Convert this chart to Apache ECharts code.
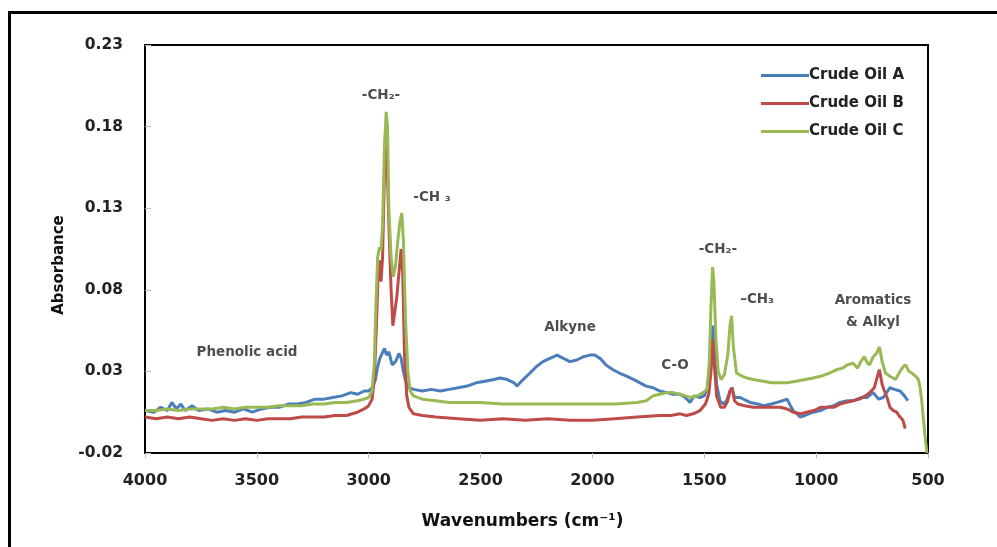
<!DOCTYPE html>
<html>
<head>
<meta charset="utf-8">
<script src="https://cdn.jsdelivr.net/npm/echarts@6/dist/echarts.min.js"></script>
<style>html,body{margin:0;padding:0;background:#fff}#c{width:997px;height:547px}</style>
</head>
<body>
<div id="c"></div>
<script>
// ---- Data ----
const seriesNames = ['Crude Oil A', 'Crude Oil B', 'Crude Oil C'];
const xTicks = [4000, 3500, 3000, 2500, 2000, 1500, 1000, 500];
const yTicks = [-0.02, 0.03, 0.08, 0.13, 0.18, 0.23];

const waveA = [4000,3960,3930,3900,3880,3860,3840,3820,3790,3760,3720,3680,3640,3600,3560,3520,3480,3440,3400,3360,3320,3280,3240,3200,3160,3120,3080,3050,3020,3000,2985,2970,2960,2950,2940,2930,2920,2910,2895,2880,2865,2855,2845,2835,2820,2800,2760,2720,2680,2640,2600,2560,2520,2480,2440,2413,2380,2350,2337,2310,2279,2250,2221,2190,2158,2130,2100,2070,2040,2011,1990,1966,1940,1908,1880,1845,1815,1787,1760,1729,1700,1666,1640,1608,1585,1564,1545,1520,1500,1485,1475,1465,1460,1455,1445,1430,1415,1400,1385,1376,1365,1340,1296,1260,1237,1200,1175,1150,1130,1115,1103,1085,1072,1050,1014,980,951,920,893,860,835,800,773,746,720,700,685,670,650,625,605,590];
const absA = [0.006,0.005,0.008,0.006,0.011,0.007,0.010,0.006,0.009,0.006,0.007,0.005,0.006,0.005,0.007,0.005,0.007,0.008,0.008,0.010,0.010,0.011,0.013,0.013,0.014,0.015,0.017,0.016,0.018,0.018,0.020,0.025,0.033,0.038,0.041,0.044,0.040,0.042,0.034,0.036,0.041,0.038,0.030,0.024,0.020,0.019,0.018,0.019,0.018,0.019,0.020,0.021,0.023,0.024,0.025,0.026,0.025,0.023,0.021,0.025,0.029,0.033,0.036,0.038,0.040,0.038,0.036,0.037,0.039,0.040,0.040,0.038,0.034,0.031,0.029,0.027,0.025,0.023,0.021,0.020,0.018,0.017,0.016,0.016,0.014,0.011,0.015,0.014,0.015,0.020,0.035,0.055,0.058,0.045,0.022,0.012,0.010,0.012,0.018,0.020,0.014,0.014,0.011,0.010,0.009,0.010,0.011,0.012,0.013,0.009,0.006,0.004,0.002,0.003,0.005,0.006,0.008,0.009,0.011,0.012,0.012,0.014,0.014,0.017,0.013,0.014,0.017,0.020,0.019,0.018,0.015,0.012];

const waveB = [4000,3950,3900,3850,3800,3750,3700,3650,3600,3550,3500,3450,3400,3350,3300,3250,3200,3150,3100,3050,3020,3000,2985,2975,2965,2958,2950,2945,2938,2930,2925,2918,2910,2900,2892,2885,2875,2865,2855,2848,2840,2830,2820,2800,2760,2700,2600,2500,2400,2300,2200,2100,2000,1900,1800,1700,1650,1608,1580,1550,1519,1495,1480,1470,1462,1455,1445,1427,1410,1395,1385,1376,1365,1350,1320,1281,1240,1200,1160,1130,1103,1070,1044,1010,980,950,922,893,864,835,806,780,761,740,722,717,705,695,683,670,655,640,625,612,602];
const absB = [0.002,0.001,0.002,0.001,0.002,0.001,0.000,0.001,0.000,0.001,0.000,0.001,0.001,0.001,0.002,0.002,0.002,0.003,0.003,0.005,0.007,0.009,0.013,0.025,0.060,0.090,0.098,0.085,0.100,0.150,0.178,0.160,0.120,0.080,0.058,0.065,0.075,0.090,0.105,0.090,0.040,0.015,0.008,0.004,0.003,0.002,0.001,0.000,0.001,0.000,0.001,0.000,0.000,0.001,0.002,0.003,0.003,0.004,0.003,0.004,0.006,0.010,0.016,0.030,0.050,0.034,0.015,0.008,0.008,0.012,0.018,0.020,0.012,0.010,0.009,0.008,0.008,0.008,0.008,0.007,0.005,0.004,0.005,0.006,0.008,0.008,0.008,0.010,0.011,0.012,0.013,0.015,0.017,0.020,0.029,0.031,0.022,0.018,0.014,0.008,0.006,0.005,0.002,0.000,-0.005];

const waveC = [4000,3950,3900,3850,3800,3750,3700,3650,3600,3550,3500,3450,3400,3350,3300,3250,3200,3150,3100,3050,3020,3000,2985,2975,2968,2960,2952,2945,2938,2930,2922,2916,2910,2900,2890,2880,2870,2860,2852,2845,2835,2825,2815,2800,2760,2700,2640,2580,2500,2400,2300,2200,2100,2000,1900,1800,1760,1729,1700,1666,1640,1608,1585,1560,1530,1505,1488,1478,1470,1463,1457,1448,1438,1425,1410,1395,1385,1378,1370,1356,1330,1310,1280,1237,1200,1160,1130,1089,1050,1014,980,941,910,882,860,835,815,800,785,770,761,745,730,717,705,690,670,645,625,610,600,585,572,555,543,535,528,520,513,505];
const absC = [0.006,0.006,0.007,0.006,0.007,0.007,0.007,0.008,0.007,0.008,0.008,0.008,0.009,0.009,0.009,0.010,0.010,0.011,0.011,0.012,0.013,0.014,0.018,0.035,0.070,0.100,0.106,0.104,0.120,0.165,0.189,0.180,0.130,0.100,0.088,0.095,0.110,0.122,0.127,0.110,0.060,0.030,0.018,0.015,0.013,0.012,0.011,0.011,0.011,0.010,0.010,0.010,0.010,0.010,0.010,0.011,0.012,0.015,0.016,0.017,0.017,0.016,0.015,0.014,0.015,0.017,0.019,0.035,0.070,0.094,0.085,0.050,0.030,0.025,0.028,0.040,0.058,0.064,0.045,0.029,0.027,0.026,0.025,0.024,0.023,0.023,0.023,0.024,0.025,0.026,0.027,0.029,0.031,0.032,0.034,0.035,0.032,0.036,0.039,0.035,0.034,0.039,0.041,0.045,0.036,0.029,0.027,0.025,0.030,0.033,0.034,0.030,0.029,0.027,0.025,0.020,0.012,0.000,-0.010,-0.020];

// Annotations (in data units)
const annoText = ['-CH\u2082-', '-CH \u2083', 'Phenolic acid', 'Alkyne', 'C-O', '-CH\u2082-', '\u2013CH\u2083', 'Aromatics\n& Alkyl'];
const annoWave = [2945, 2717, 3544, 2100, 1631, 1439, 1264, 746];
const annoAbs  = [0.1988, 0.1363, 0.0413, 0.0572, 0.0339, 0.105, 0.0738, 0.067];

const colors = ['#4A7EBB', '#BE4B48', '#98B954'];
const FONT = '"DejaVu Sans", Verdana, sans-serif';

function zip(w, a) { return w.map((x, i) => [x, a[i]]); }

const chart = echarts.init(document.getElementById('c'), null, {renderer: 'canvas'});
const lineSeries = [[waveA, absA], [waveB, absB], [waveC, absC]].map((d, i) => ({
  name: seriesNames[i],
  type: 'line',
  data: zip(d[0], d[1]),
  symbol: 'none',
  lineStyle: {width: 3, color: colors[i]},
  itemStyle: {color: colors[i]},
  z: 2 + i,
  silent: true
}));

const option = {
  animation: false,
  backgroundColor: '#fff',
  grid: {left: 145, right: 69, top: 45, bottom: 94, show: true, borderColor: '#000', borderWidth: 2},
  legend: {
    data: seriesNames,
    orient: 'vertical',
    left: 756, top: 63,
    icon: 'rect',
    itemWidth: 48, itemHeight: 3, itemGap: 13,
    textStyle: {fontFamily: FONT, fontWeight: 'bold', fontSize: 15, color: '#222', padding: [0, 0, 0, -5]}
  },
  xAxis: {
    type: 'value', inverse: true, min: 500, max: 4000, interval: 500,
    name: 'Wavenumbers (cm\u207B\u00B9)', nameLocation: 'middle', nameGap: 60,
    nameTextStyle: {fontFamily: FONT, fontWeight: 'bold', fontSize: 17, color: '#111', padding: [0, 28, 0, 0]},
    axisLine: {show: true, onZero: false, lineStyle: {color: '#000', width: 2}},
    axisTick: {show: true, length: 5, lineStyle: {color: '#bbb'}},
    axisLabel: {fontFamily: FONT, fontWeight: 'bold', fontSize: 16, color: '#222', margin: 20,
      formatter: v => xTicks.includes(v) ? String(v) : ''},
    splitLine: {show: false}
  },
  yAxis: {
    type: 'value', min: -0.02, max: 0.23, interval: 0.05,
    name: 'Absorbance', nameLocation: 'middle', nameGap: 78,
    nameTextStyle: {fontFamily: FONT, fontWeight: 'bold', fontSize: 15, color: '#111', padding: [0, 32, 0, 0]},
    axisLine: {show: true, onZero: false, lineStyle: {color: '#000', width: 2}},
    axisTick: {show: true, inside: true, length: 6, lineStyle: {color: '#bbb'}},
    axisLabel: {fontFamily: FONT, fontWeight: 'bold', fontSize: 15.5, color: '#222', margin: 22,
      formatter: v => {
        const t = yTicks.find(y => Math.abs(y - v) < 1e-6);
        return t === undefined ? '' : t.toFixed(2);
      }},
    splitLine: {show: false}
  },
  series: lineSeries.concat([{
    name: 'annotations',
    type: 'scatter',
    symbolSize: 0,
    silent: true,
    z: 10,
    data: annoText.map((t, i) => [annoWave[i], annoAbs[i], t]),
    label: {
      show: true, position: 'inside', formatter: p => p.data[2],
      fontFamily: FONT, fontWeight: 'bold', fontSize: 13.5, color: '#222', lineHeight: 22, align: 'center'
    }
  }]),
  graphic: [{
    type: 'rect', silent: true, z: 100,
    shape: {x: 9.5, y: 12.5, width: 1100, height: 700},
    style: {fill: 'none', stroke: '#000', lineWidth: 3}
  }]
};
chart.setOption(option);
</script>
</body>
</html>
